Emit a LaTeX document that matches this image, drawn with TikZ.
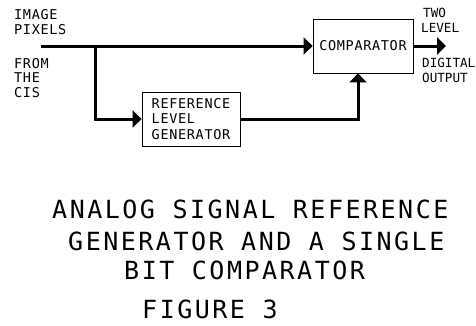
\documentclass[tikz,border=0pt]{standalone}
\usepackage{fontspec}
\usepackage{tikz}
\usetikzlibrary{positioning,arrows.meta}
\newfontfamily\lblfont[LetterSpace=5]{DejaVu Sans Mono}
\newfontfamily\outfont{DejaVu Sans Mono}
\newfontfamily\ttlfont[LetterSpace=10]{DejaVu Sans Mono}

\begin{document}
\begin{tikzpicture}[x=1pt,y=-1pt,
    box/.style={draw,line width=0.8pt,align=left,inner sep=0pt,font=\lblfont\fontsize{13.5}{15.5}\selectfont},
    lbl/.style={anchor=west,inner sep=0pt,font=\lblfont\fontsize{13.5}{15.5}\selectfont},
    outlbl/.style={anchor=west,inner sep=0pt,font=\outfont\fontsize{12.6}{15}\selectfont},
    ttl/.style={anchor=west,inner sep=0pt,font=\ttlfont\fontsize{25}{30}\selectfont},
    arr/.style={-{Triangle[length=9pt,width=17pt]},line width=3pt}
  ]
    \useasboundingbox (0,0) rectangle (476,325);
    \node[box,minimum width=100pt,minimum height=54pt] (comp) at (363,46) {COMPARATOR};
    \node[box,minimum width=98pt,minimum height=54pt] (ref) at (191,119) {REFERENCE\\LEVEL\\GENERATOR};
    \coordinate (in) at (41,46);
    \coordinate (split) at (95,46);
    \coordinate (out) at (446,46);
    \draw[arr] (in) -- (comp.west);
    \draw[arr] (split) |- (ref.west);
    \draw[arr] (ref.east) -| ([xshift=-5pt]comp.south);
    \draw[arr] (comp.east) -- (out);
    % input and output labels
    \node[lbl] (image) at (14,15) {IMAGE};
    \node[lbl] (pixels) at (14,30) {PIXELS};
    \node[lbl] (from) at (14,64) {FROM};
    \node[lbl] (the) at (14,78) {THE};
    \node[lbl] (cis) at (14,93) {CIS};
    \node[outlbl] (two) at (423,13) {TWO};
    \node[outlbl] (level) at (421,28) {LEVEL};
    \node[outlbl] (digital) at (422,63) {DIGITAL};
    \node[outlbl] (output) at (422,78) {OUTPUT};
    % caption
    \node[ttl] (title1) at (52,209) {ANALOG SIGNAL REFERENCE};
    \node[ttl] (title2) at (68,241) {GENERATOR AND A SINGLE};
    \node[ttl] (title3) at (124,270) {BIT COMPARATOR};
    \node[ttl] (fig) at (142,309) {FIGURE 3};
  \end{tikzpicture}
\end{document}
